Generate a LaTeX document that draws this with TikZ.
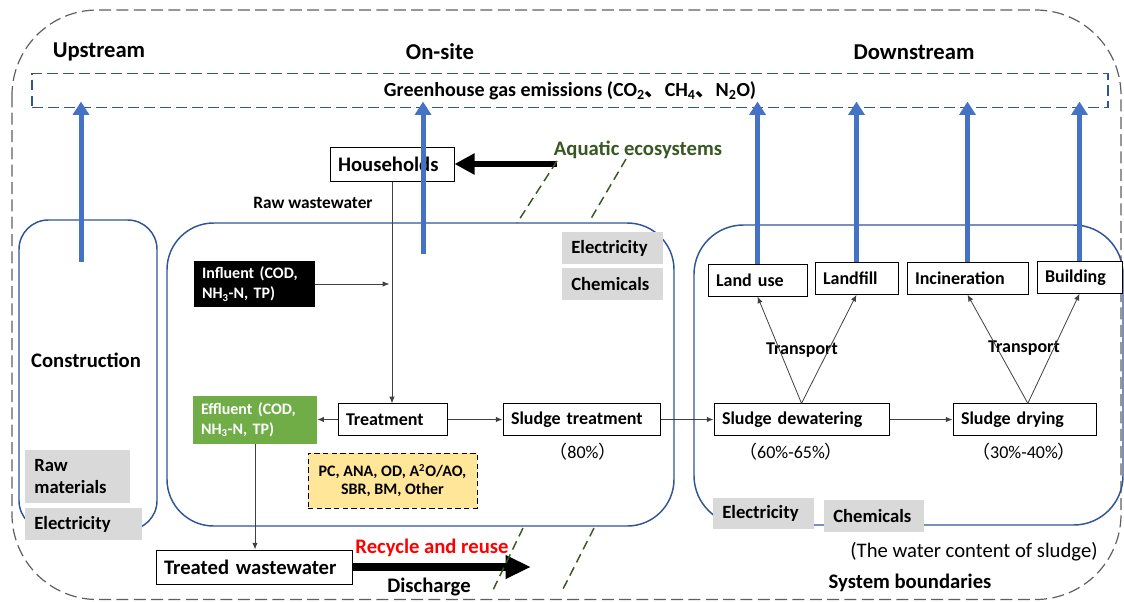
\documentclass[tikz,border=0pt]{standalone}
\usepackage{fontspec}
\setmainfont{Carlito}
\newfontfamily\cjk{Noto Sans CJK SC}
\usepackage{tikz}
\usetikzlibrary{arrows.meta}
\definecolor{ghgblue}{HTML}{4472C4}
\definecolor{regionblue}{HTML}{2F5597}
\definecolor{aquagreen}{HTML}{385723}
\definecolor{effgreen}{HTML}{70AD47}
\definecolor{techyellow}{HTML}{FFE699}
\definecolor{inputgray}{HTML}{D9D9D9}
\definecolor{boundgray}{HTML}{5F5F5F}
\tikzstyle{box} = [draw, fill=white, line width=0.75pt, align=left, inner xsep=6pt, inner ysep=0pt, minimum height=23.5pt, font=\bfseries\fontsize{13.5}{16}\selectfont]
\tikzstyle{input} = [fill=inputgray, align=left, inner xsep=7pt, inner ysep=0pt, minimum height=24pt, font=\bfseries\fontsize{14}{17}\selectfont]
\tikzstyle{region} = [draw=regionblue, line width=1.1pt]
\tikzstyle{ghgarrow} = [draw=ghgblue, line width=3.75pt, shorten >=-5pt, -{Triangle[width=12pt,length=10pt]}]
\tikzstyle{arrow} = [line width=0.6pt, draw=black!75, -{Latex[length=5pt,width=4pt]}]
\tikzstyle{bigarrow} = [line width=4.5pt, -{Triangle[width=15pt,length=15pt]}]
\tikzstyle{ecoline} = [draw=aquagreen, line width=1.1pt, dash pattern={on 7pt off 4pt}]
\tikzstyle{headtxt} = [font=\bfseries\fontsize{17}{20}\selectfont]
\tikzstyle{notetxt} = [font=\bfseries\fontsize{15.5}{18}\selectfont]
\tikzstyle{smalltxt} = [font=\bfseries\fontsize{13.5}{16}\selectfont]
\tikzstyle{pcttxt} = [font=\fontsize{13.5}{16}\selectfont]

\begin{document}
\begin{tikzpicture}[x=0.75pt,y=0.75pt,yscale=-1,xscale=1]
\useasboundingbox (0,0) rectangle (1124,601);

%System boundary
\draw [boundgray, line width=0.9pt, dash pattern={on 9pt off 4pt}, rounded corners=64pt] (12,10) rectangle (1121,599.5) ;
%Regions
\draw [region, rounded corners=22pt] (19,220) rectangle (157,530) ;
\draw [region, rounded corners=35pt] (167,223) rectangle (674,526) ;
\draw [region, rounded corners=37pt] (694,225) rectangle (1123,525) ;

% GHG band
\node (ghg) [draw=regionblue, line width=1.1pt, dash pattern={on 8pt off 4pt}, minimum width=807pt, minimum height=25.5pt, font=\bfseries\fontsize{15}{18}\selectfont] at (570,90.5) {Greenhouse gas emissions (CO\textsubscript{2}{\cjk 、}CH\textsubscript{4}{\cjk 、}N\textsubscript{2}O)};

% Titles
\node (upstream) [headtxt] at (99,52) {Upstream};
\node (onsite) [headtxt] at (440,52) {On-site};
\node (downstream) [headtxt] at (914,52) {Downstream};

% Inputs
\node (rawmat) [input, text width=64.75pt, minimum height=39.75pt] at (77.5,476.5) {Raw\\materials};
\node (elecup) [input, text width=73.75pt] at (83.5,524) {Electricity};
\node (elecon) [input, text width=61.75pt] at (612.5,248) {Electricity};
\node (chemon) [input, text width=61.75pt] at (612.5,284) {Chemicals};
\node (elecdown) [input, text width=61.75pt, minimum height=23.25pt] at (763.5,513.5) {Electricity};
\node (chemdown) [input, text width=61pt] at (874,516) {Chemicals};

% Boxes
\node (households) [box, text width=81pt, minimum height=25.5pt, font=\bfseries\fontsize{15.5}{18}\selectfont] at (392,164) {Households};
\node (influent) [fill=black, text=white, align=left, inner xsep=6pt, inner ysep=0pt, text width=78.75pt, minimum height=34.5pt, font=\bfseries\fontsize{12}{15}\selectfont] at (254.5,284) {Influent (COD,\\NH\textsubscript{3}-N, TP)};
\node (treat) [box, text width=69.75pt] at (392.5,419.5) {Treatment};
\node (effluent) [fill=effgreen, text=white, align=left, inner xsep=6pt, inner ysep=0pt, text width=81pt, minimum height=36pt, font=\bfseries\fontsize{12}{15}\selectfont] at (255,419.5) {Effluent (COD,\\NH\textsubscript{3}-N, TP)};
\node (sludgetreat) [box, text width=105.75pt] at (581.5,419.5) {Sludge treatment};
\node (tech) [draw, fill=techyellow, line width=0.75pt, dash pattern={on 4pt off 2.5pt}, align=center, minimum width=126.75pt, minimum height=41.25pt, inner sep=0pt, font=\bfseries\fontsize{12}{13.5}\selectfont] at (392.5,480.5) {PC, ANA, OD, A\textsuperscript{2}O/AO,\\SBR, BM, Other};
\node (treated) [box, text width=135pt, minimum height=25.5pt, font=\bfseries\fontsize{15.5}{18}\selectfont] at (254,567) {Treated wastewater};
\node (dewater) [box, text width=119.25pt] at (801.5,419.5) {Sludge dewatering};
\node (drying) [box, text width=95.25pt] at (1024.5,419.5) {Sludge drying};
\node (landuse) [box, text width=62.25pt, minimum height=24pt] at (757.5,280) {Land use};
\node (landfill) [box, text width=50.25pt] at (856.5,278.5) {Landfill};
\node (incin) [box, text width=78.75pt] at (967.5,278.5) {Incineration};
\node (building) [box, text width=51.75pt] at (1079.5,277.5) {Building};

% Text Node
\node (construction) [notetxt] at (86,360) {Construction};
\node (rawww) [font=\bfseries\fontsize{13}{16}\selectfont] at (313,203) {Raw wastewater};
\node (aquatic) [notetxt, text=aquagreen] at (638,150) {Aquatic ecosystems};
\node (pcta) [pcttxt] at (583,452) {{\cjk （}80\%{\cjk ）}};
\node (pctb) [pcttxt] at (791,452) {{\cjk （}60\%-65\%{\cjk ）}};
\node (pctc) [pcttxt] at (1024,452) {{\cjk （}30\%-40\%{\cjk ）}};
\node (transa) [smalltxt] at (802,350) {Transport};
\node (transb) [smalltxt] at (1024,348) {Transport};
\node (water) [font=\fontsize{15.5}{18}\selectfont] at (974,552) {(The water content of sludge)};
\node (sysbound) [notetxt] at (910,583) {System boundaries};
\node (recycle) [notetxt, text=red] at (432,548) {Recycle and reuse};
\node (discharge) [notetxt] at (429,587) {Discharge};

%Straight Lines
\draw [arrow] (households.south) -- (households.south |- treat.north) ;
\draw [arrow, shorten >=2pt] (influent.east) -- (influent.east -| households.south) ;
\draw [arrow] (treat.west) -- (effluent.east) ;
\draw [arrow] (treat.east) -- (sludgetreat.west) ;
\draw [arrow] (sludgetreat.east) -- (dewater.west) ;
\draw [arrow] (dewater.east) -- (drying.west) ;
\draw [arrow] (effluent.south) -- (effluent.south |- treated.north) ;
\draw [arrow] (dewater.north) -- (landuse.south) ;
\draw [arrow] (dewater.north) -- (landfill.south) ;
\draw [arrow] ([xshift=2.5pt]drying.north) -- (incin.south) ;
\draw [arrow] ([xshift=2.5pt]drying.north) -- (building.south) ;

%Thick arrows
\coordinate (aqsrc) at (557,164);
\draw [bigarrow] (aqsrc) -- (households.east) ;
\coordinate (dischend) at (531,567);
\draw [line width=6pt, -{Triangle[width=16.5pt,length=19pt]}] (treated.east) -- (dischend) ;

%GHG arrows
\coordinate (upsrc) at (81,262);
\coordinate (onsrc) at (423,254);
\draw [ghgarrow] (upsrc) -- (upsrc |- ghg.south) ;
\draw [ghgarrow] (onsrc) -- (onsrc |- ghg.south) ;
\draw [ghgarrow] (landuse.north) -- (landuse.north |- ghg.south) ;
\draw [ghgarrow] (landfill.north) -- (landfill.north |- ghg.south) ;
\draw [ghgarrow] (incin.north) -- (incin.north |- ghg.south) ;
\draw [ghgarrow] (building.north) -- (building.north |- ghg.south) ;

%Aquatic boundary
\draw [ecoline] (557,161) -- (517,223) ;
\draw [ecoline] (626,159) -- (589,222) ;
\draw [ecoline] (523,528) -- (493,590) ;
\draw [ecoline] (594,528) -- (562,591) ;

\end{tikzpicture}
\end{document}
